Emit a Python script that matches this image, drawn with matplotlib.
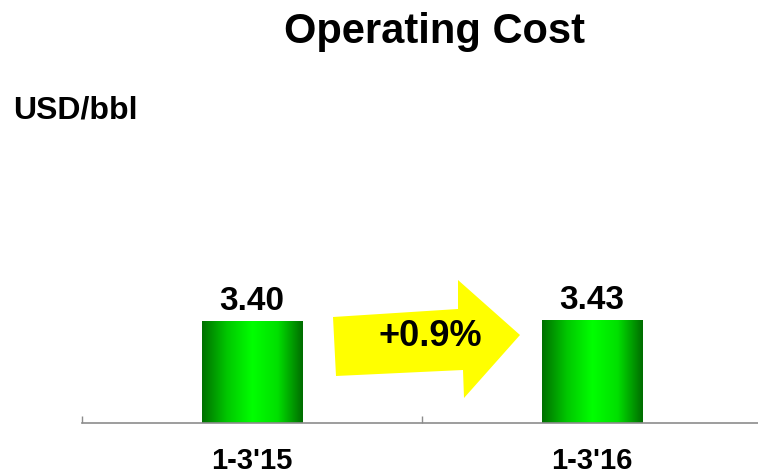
import numpy as np
import matplotlib
matplotlib.use("Agg")
import matplotlib.pyplot as plt
from matplotlib.patches import Polygon, Rectangle
from matplotlib.colors import LinearSegmentedColormap

plt.rcParams["font.family"] = ["Liberation Sans", "DejaVu Sans"]

periods = ["1-3'15", "1-3'16"]
cost = [3.40, 3.43]
change_label = "+0.9%"

W, H = 758, 474
fig = plt.figure(figsize=(W / 100, H / 100), dpi=100)
ax = fig.add_axes([0.1082, 0.1076, 0.897, 0.6814])

# green cylinder-style shading across each bar
green = LinearSegmentedColormap.from_list(
    "bar", ["#007000", "#00c800", "#00ff00", "#00e000", "#006c00"])
shade = np.linspace(0, 1, 256).reshape(1, -1)

pos = np.arange(len(periods)) + 0.5
width = 0.295
for x, v, lab in zip(pos, cost, periods):
    im = ax.imshow(shade, cmap=green, aspect="auto",
                   extent=[x - width / 2, x + width / 2, 0, v], zorder=2)
    clip = Rectangle((x - width / 2, 0), width, v, transform=ax.transData)
    im.set_clip_path(clip)
    ax.annotate(f"{v:.2f}", (x, v), xytext=(0, 8), textcoords="offset points",
                ha="center", va="baseline", fontsize=24, fontweight="bold")
    ax.annotate(lab, (x, 0), xytext=(0, -33), textcoords="offset points",
                ha="center", va="baseline", fontsize=21, fontweight="bold",
                annotation_clip=False)

ax.set_xlim(0, 2)
ax.set_ylim(0, 10.77)
for s in ["top", "right", "left"]:
    ax.spines[s].set_visible(False)
ax.spines["bottom"].set_color("#8c8c8c")
ax.spines["bottom"].set_linewidth(1.2)
ax.set_yticks([])
ax.set_xticks([0, 1, 2])
ax.set_xticklabels([])
ax.tick_params(axis="x", which="major", direction="in", length=5,
               color="#8c8c8c", width=1)

fig.text(434 / W, 1 - 43 / H, "Operating Cost", ha="center", va="baseline",
         fontsize=30, fontweight="bold")
fig.text(13 / W, 1 - 118 / H, "USD/bbl", ha="left", va="baseline",
         fontsize=23, fontweight="bold")

# yellow arrow between the bars
pts = [(333, 317), (458, 309), (458, 280), (520, 335),
       (464, 398), (463, 370), (336, 376)]
arrow = Polygon([(px / W, 1 - py / H) for px, py in pts], closed=True,
                transform=fig.transFigure, facecolor="#ffff00",
                edgecolor="none")
fig.patches.append(arrow)
fig.text(430 / W, 1 - 337 / H, change_label, ha="center", va="center",
         fontsize=26, fontweight="bold")

fig.savefig("out.png", dpi=100)
